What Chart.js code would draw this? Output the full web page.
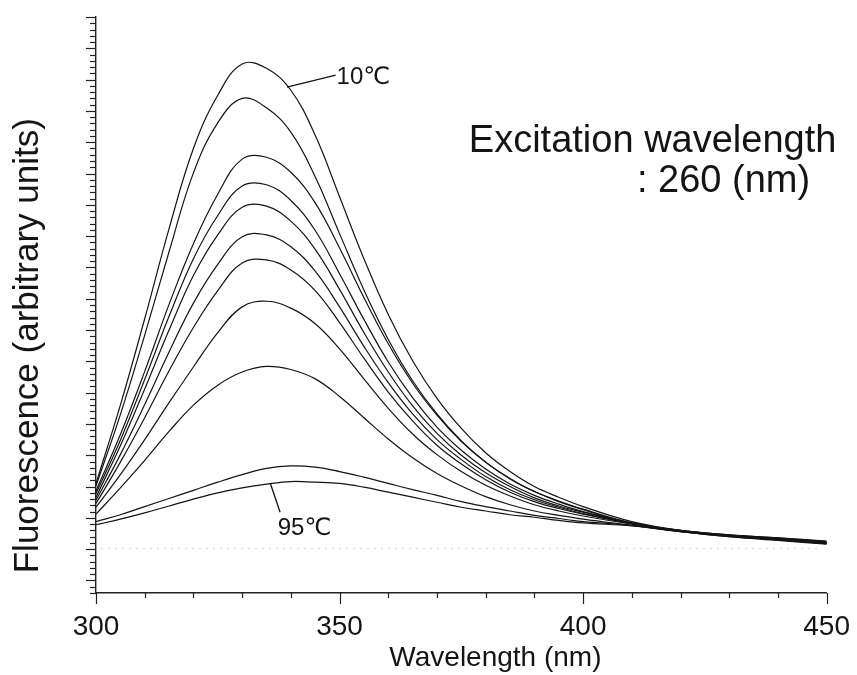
<!DOCTYPE html>
<html><head><meta charset="utf-8">
<script src="https://cdn.jsdelivr.net/npm/chart.js@4"></script>
<style>html,body{margin:0;padding:0;background:#fff}canvas{display:block}</style>
</head><body>
<canvas id="c" width="857" height="675"></canvas>
<script>
// ---- data (arbitrary fluorescence units) ----
const wavelengths = [300,305,310,315,320,325,330,335,340,345,350,355,360,365,370,375,380,385,390,395,400,410,420,430,440,450];
const curve10C = [15.5,28.0,41.8,56.2,69.0,77.5,82.5,81.8,78.3,71.1,61.3,51.4,42.5,35.1,29.1,24.3,20.4,17.4,15.0,13.3,11.8,9.4,8.0,7.3,6.8,6.3];
const curve2  = [15.1,26.5,39.2,52.5,65.1,73.1,77.0,75.5,71.6,64.5,55.4,46.4,38.5,31.9,26.6,22.3,18.9,16.2,14.2,12.6,11.3,9.1,8.0,7.3,6.8,6.2];
const curve3  = [14.3,23.3,33.4,44.1,53.8,61.7,67.3,67.6,65.2,60.3,53.1,45.2,37.8,31.5,26.4,22.2,18.9,16.3,14.2,12.7,11.4,9.2,8.0,7.2,6.7,6.2];
const curve4  = [13.9,22.4,32.1,42.2,51.4,58.3,63.0,63.2,60.7,55.9,49.0,41.7,34.9,29.2,24.5,20.8,17.8,15.4,13.6,12.2,11.0,9.2,7.9,7.2,6.7,6.1];
const curve5  = [13.3,21.5,30.6,40.0,48.7,55.2,59.6,59.8,57.4,52.9,46.5,39.6,33.3,27.9,23.5,20.0,17.2,15.0,13.2,11.9,10.9,9.1,7.9,7.2,6.6,6.1];
const curve6  = [12.8,20.1,28.1,36.5,44.3,50.5,54.9,55.2,53.3,49.4,43.7,37.4,31.6,26.6,22.5,19.3,16.6,14.5,12.9,11.7,10.7,9.1,7.9,7.2,6.6,6.0];
const curve7  = [12.3,18.9,26.0,33.5,40.4,46.3,50.7,51.2,49.6,46.3,41.2,35.5,30.1,25.5,21.6,18.6,16.1,14.1,12.6,11.5,10.6,9.1,7.9,7.1,6.6,6.0];
const curve8  = [11.7,16.9,22.5,28.4,34.1,39.6,43.7,44.6,43.5,41.0,37.0,32.2,27.5,23.4,20.1,17.4,15.2,13.5,12.1,11.1,10.3,9.0,7.9,7.1,6.5,6.0];
const curve9  = [10.6,14.8,19.2,23.8,28.0,31.2,33.3,34.2,33.7,32.2,29.4,26.0,22.6,19.6,17.1,15.1,13.4,12.1,11.1,10.4,9.8,8.8,7.8,7.1,6.5,5.9];
const curve10 = [9.4,10.5,11.8,13.1,14.4,15.7,16.9,17.9,18.3,18.1,17.4,16.5,15.5,14.5,13.6,12.6,11.8,11.1,10.4,9.9,9.4,8.8,7.8,7.0,6.5,5.9];
const curve95C = [8.9,9.8,10.8,11.9,13.0,14.0,14.8,15.4,15.8,15.7,15.5,14.9,14.1,13.3,12.5,11.7,11.1,10.5,10.1,9.6,9.2,8.7,7.8,7.0,6.4,5.8];
const allCurves = [curve10C,curve2,curve3,curve4,curve5,curve6,curve7,curve8,curve9,curve10,curve95C];

const xMajorTicks = [300,350,400,450];
const xTitle = 'Wavelength (nm)';
const yTitle = 'Fluorescence (arbitrary units)';
const noteLines = ['Excitation wavelength', ': 260 (nm)'];
const label10 = {text:'10\u2103', at:[349.4,79.3], from:[339.2,78.8], to:[349.2,80.7]};
const label95 = {text:'95\u2103', at:[337.3,7.3], from:[335.8,15.5], to:[337.8,10.9]};
const artifactLevel = 5.1;

const FONT = '"Liberation Sans", Arial, Helvetica, "DejaVu Sans", sans-serif';
const INK = '#141414';

const decor = {
  id: 'decor',
  beforeDatasetsDraw(chart) {
    const {ctx} = chart, xs = chart.scales.x, ys = chart.scales.y;
    ctx.save();
    ctx.strokeStyle = 'rgba(0,0,0,0.13)';
    ctx.setLineDash([2,5]);
    ctx.lineWidth = 1.5;
    const y = ys.getPixelForValue(artifactLevel);
    ctx.beginPath();
    ctx.moveTo(xs.getPixelForValue(301), y);
    ctx.lineTo(xs.getPixelForValue(449), y);
    ctx.stroke();
    ctx.restore();
  },
  afterDraw(chart) {
    const {ctx} = chart, xs = chart.scales.x, ys = chart.scales.y, area = chart.chartArea;
    ctx.save();
    ctx.strokeStyle = '#222';
    ctx.lineWidth = 1.2;
    ys.ticks.forEach(t => {
      const p = Math.round(ys.getPixelForValue(t.value)) + 0.5;
      const len = (Math.round(t.value) % 5 === 0) ? 10 : 6;
      ctx.beginPath(); ctx.moveTo(area.left - len, p); ctx.lineTo(area.left, p); ctx.stroke();
    });
    xs.ticks.forEach(t => {
      const p = Math.round(xs.getPixelForValue(t.value)) + 0.5;
      const len = xMajorTicks.includes(t.value) ? 11 : 5;
      ctx.beginPath(); ctx.moveTo(p, area.bottom); ctx.lineTo(p, area.bottom + len); ctx.stroke();
    });
    // leader lines
    ctx.lineWidth = 1.3;
    ctx.strokeStyle = INK;
    [label10, label95].forEach(l => {
      ctx.beginPath();
      ctx.moveTo(xs.getPixelForValue(l.from[0]), ys.getPixelForValue(l.from[1]));
      ctx.lineTo(xs.getPixelForValue(l.to[0]), ys.getPixelForValue(l.to[1]));
      ctx.stroke();
    });
    ctx.fillStyle = INK;
    ctx.textBaseline = 'alphabetic';
    ctx.textAlign = 'left';
    ctx.font = '24px ' + FONT;
    [label10, label95].forEach(l => {
      ctx.fillText(l.text, xs.getPixelForValue(l.at[0]), ys.getPixelForValue(l.at[1]));
    });
    // note
    ctx.font = '38px ' + FONT;
    ctx.textAlign = 'right';
    ctx.fillText(noteLines[0], xs.getPixelForValue(452.0), ys.getPixelForValue(68.4));
    ctx.fillText(noteLines[1], xs.getPixelForValue(446.6), ys.getPixelForValue(62.0));
    // axis titles
    ctx.font = '28px ' + FONT;
    ctx.textAlign = 'center';
    ctx.textBaseline = 'middle';
    ctx.fillText(xTitle, xs.getPixelForValue(382), chart.height - 16.8);
    ctx.save();
    ctx.font = '35px ' + FONT;
    ctx.translate(38, ys.getPixelForValue(37.5));
    ctx.rotate(-Math.PI / 2);
    ctx.textBaseline = 'alphabetic';
    ctx.fillText(yTitle, 0, 0);
    ctx.restore();
    ctx.restore();
  }
};

new Chart(document.getElementById('c'), {
  type: 'line',
  data: {
    datasets: allCurves.map(arr => ({
      data: wavelengths.map((w, i) => ({x: w, y: arr[i]})),
      borderColor: INK,
      borderWidth: 1.2,
      pointRadius: 0,
      fill: false,
      tension: 0.4
    }))
  },
  options: {
    responsive: false,
    animation: false,
    events: [],
    layout: {padding: {top: 17, right: 26, left: 0, bottom: 0}},
    plugins: {legend: {display: false}, tooltip: {enabled: false}},
    scales: {
      x: {
        type: 'linear', min: 300, max: 450,
        afterFit(s) { s.height = 82; },
        ticks: {
          stepSize: 10, maxTicksLimit: 1000, autoSkip: false, maxRotation: 0, padding: 7,
          color: INK, font: {family: FONT, size: 28},
          callback: v => xMajorTicks.includes(v) ? String(v) : ''
        },
        grid: {display: true, drawOnChartArea: false, tickLength: 10, tickColor: 'rgba(0,0,0,0)'},
        border: {display: true, color: '#222', width: 1.4}
      },
      y: {
        type: 'linear', min: -2, max: 90,
        afterFit(s) { s.width = 96; },
        ticks: {display: false, stepSize: 1, maxTicksLimit: 1000},
        grid: {display: true, drawOnChartArea: false, tickLength: 10, tickColor: 'rgba(0,0,0,0)'},
        border: {display: true, color: '#222', width: 1.4}
      }
    }
  },
  plugins: [decor]
});
</script>
</body></html>
